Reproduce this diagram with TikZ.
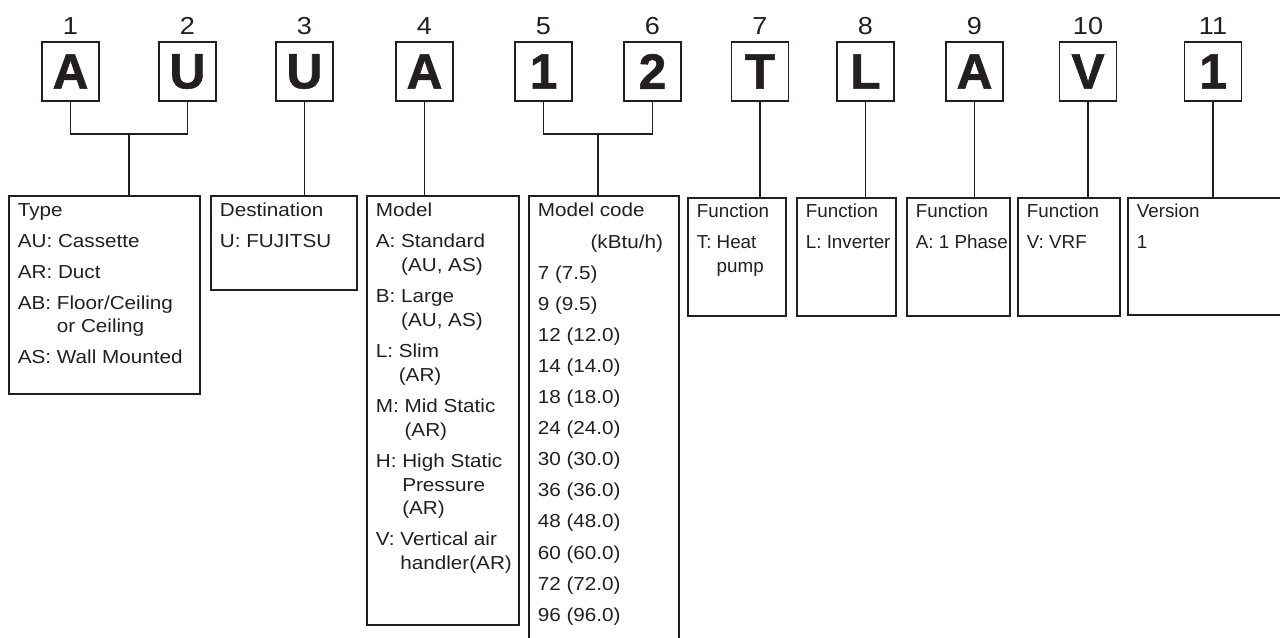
\documentclass[tikz,border=0pt]{standalone}
\usepackage{fontspec}
\setmainfont{Liberation Sans}[FakeStretch=1.1]
\newfontfamily\codefont{Liberation Sans}[BoldFeatures={FakeBold=1.2}]
\newfontfamily\funcfont{Liberation Sans}
\usetikzlibrary{positioning}
\definecolor{ink}{HTML}{231F20}

\begin{document}
\begin{tikzpicture}[
    x=0.02cm, y=-0.02cm,
    every node/.style={text=ink},
    charbox/.style={
        draw=ink,
        line width=1pt,
        minimum width=1.14cm,
        minimum height=1.18cm,
        inner sep=0pt,
        font=\codefont\bfseries\fontsize{28.3}{30}\selectfont
    },
    numlbl/.style={
        anchor=base,
        inner sep=0pt,
        font=\fontsize{14}{16}\selectfont
    },
    descbox/.style={
        draw=ink,
        line width=1pt,
        anchor=north west,
        inner sep=0pt
    },
    desctext/.style={
        anchor=north west,
        inner sep=0pt,
        align=left,
        font=\fontsize{10.7}{13.6}\selectfont
    },
    functext/.style={
        desctext,
        font=\funcfont\fontsize{10.7}{13.6}\selectfont
    },
    link/.style={draw=ink, line width=0.8pt}
]
    \useasboundingbox (0,0) rectangle (1280,637);
    \clip (0,0) rectangle (1280,637);

    % Code characters
    \node[charbox] (c1) at (70.5,71.5) {A};
    \node[charbox] (c2) at (187.5,71.5) {U};
    \node[charbox] (c3) at (304.5,71.5) {U};
    \node[charbox] (c4) at (424.5,71.5) {A};
    \node[charbox] (c5) at (543.5,71.5) {1};
    \node[charbox] (c6) at (652.5,71.5) {2};
    \node[charbox] (c7) at (760,71.5) {T};
    \node[charbox] (c8) at (865.5,71.5) {L};
    \node[charbox] (c9) at (974.5,71.5) {A};
    \node[charbox] (c10) at (1088,71.5) {V};
    \node[charbox] (c11) at (1213,71.5) {1};

    % Position numbers
    \foreach \i in {1,...,11}
        \node[numlbl] (n\i) at ([yshift=0.14cm]c\i.north) {\i};

    % Description boxes
    \node[descbox, minimum width=3.82cm, minimum height=3.96cm] (typebox) at (8,195) {};
    \node[descbox, minimum width=2.92cm, minimum height=1.88cm] (destbox) at (210,195) {};
    \node[descbox, minimum width=3.04cm, minimum height=8.58cm] (modelbox) at (366,195) {};
    \node[descbox, minimum width=3.00cm, minimum height=9.6cm] (codebox) at (528,195) {};
    \node[descbox, minimum width=1.96cm, minimum height=2.36cm] (funcT) at (687,197) {};
    \node[descbox, minimum width=1.98cm, minimum height=2.36cm] (funcL) at (796,197) {};
    \node[descbox, minimum width=2.06cm, minimum height=2.36cm] (funcA) at (906,197) {};
    \node[descbox, minimum width=2.04cm, minimum height=2.36cm] (funcV) at (1017,197) {};
    \node[descbox, minimum width=3.6cm, minimum height=2.34cm] (verbox) at (1127,197) {};

    % Description texts
    \node[desctext] (typetxt) at ([shift={(9.5,8)}]typebox.north west)
        {Type\\[4pt]AU: Cassette\\[4pt]AR: Duct\\[4pt]AB: Floor/Ceiling\\\hphantom{AB: }or Ceiling\\[4pt]AS: Wall Mounted};
    \node[desctext] (desttxt) at ([shift={(9.5,8)}]destbox.north west)
        {Destination\\[4pt]U: FUJITSU};
    \node[desctext] (modeltxt) at ([shift={(9.5,8)}]modelbox.north west)
        {Model\\[4pt]A: Standard\\\hphantom{A: }(AU, AS)\\[4pt]B: Large\\\hphantom{B: }(AU, AS)\\[4pt]L: Slim\\\hphantom{L: }(AR)\\[4pt]M: Mid Static\\\hphantom{M: }(AR)\\[4pt]H: High Static\\\hphantom{H: }Pressure\\\hphantom{H: }(AR)\\[4pt]V: Vertical air\\\hphantom{V: }handler(AR)};
    \node[desctext] (codetxt) at ([shift={(9.5,8)}]codebox.north west)
        {Model code\\[4.1pt]\hspace*{30pt}(kBtu/h)\\[4.1pt]7 (7.5)\\[4.1pt]9 (9.5)\\[4.1pt]12 (12.0)\\[4.1pt]14 (14.0)\\[4.1pt]18 (18.0)\\[4.1pt]24 (24.0)\\[4.1pt]30 (30.0)\\[4.1pt]36 (36.0)\\[4.1pt]48 (48.0)\\[4.1pt]60 (60.0)\\[4.1pt]72 (72.0)\\[4.1pt]96 (96.0)};
    \node[functext] (functtxt) at ([shift={(9.5,7)}]funcT.north west)
        {Function\\[4pt]T: Heat\\\hphantom{T: }pump};
    \node[functext] (funcltxt) at ([shift={(9.5,7)}]funcL.north west)
        {Function\\[4pt]L: Inverter};
    \node[functext] (funcatxt) at ([shift={(9.5,7)}]funcA.north west)
        {Function\\[4pt]A: 1 Phase};
    \node[functext] (funcvtxt) at ([shift={(9.5,7)}]funcV.north west)
        {Function\\[4pt]V: VRF};
    \node[functext] (vertxt) at ([shift={(9.5,7)}]verbox.north west)
        {Version\\[4pt]1};

    % Connectors
    \coordinate (j12) at (129,134);
    \coordinate (j56) at (598,134);
    \draw[link] (c1.south) -- (c1.south |- j12) -- (c2.south |- j12) -- (c2.south);
    \draw[link] (j12) -- (j12 |- typebox.north);
    \draw[link] (c3.south) -- (c3.south |- destbox.north);
    \draw[link] (c4.south) -- (c4.south |- modelbox.north);
    \draw[link] (c5.south) -- (c5.south |- j56) -- (c6.south |- j56) -- (c6.south);
    \draw[link] (j56) -- (j56 |- codebox.north);
    \draw[link] (c7.south) -- (c7.south |- funcT.north);
    \draw[link] (c8.south) -- (c8.south |- funcL.north);
    \draw[link] (c9.south) -- (c9.south |- funcA.north);
    \draw[link] (c10.south) -- (c10.south |- funcV.north);
    \draw[link] (c11.south) -- (c11.south |- verbox.north);

\end{tikzpicture}
\end{document}
